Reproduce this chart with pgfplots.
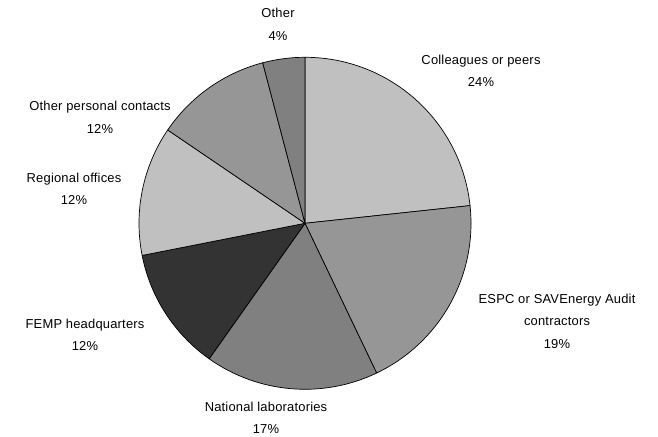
\documentclass[border=0pt]{standalone}
\usepackage{pgfplots}
\usepackage{pgfplotstable}
\pgfplotsset{compat=1.18}
\usepackage{fontspec}
\setmainfont[LetterSpace=1.5]{Liberation Sans}
\definecolor{cLight}{HTML}{C0C0C0}
\definecolor{cMid}{HTML}{969696}
\definecolor{cDark}{HTML}{808080}
\definecolor{cBlack}{HTML}{333333}
\pgfplotstableread{
value color
23.3 cLight
19.6 cMid
16.9 cDark
12.1 cBlack
12.6 cLight
11.4 cMid
4.1 cDark
}\piedata
\begin{document}
\begin{tikzpicture}
\begin{axis}[
  x=1bp, y=1bp,
  xmin=0, xmax=658, ymin=0, ymax=437,
  hide axis, clip=false,
  scale only axis,
]
\pgfplotsextra{
  \path (axis cs:0,0) rectangle (axis cs:658,437);
  \gdef\curang{90}
  \pgfplotsforeachungrouped \i in {0,...,6} {
    \pgfplotstablegetelem{\i}{value}\of\piedata \let\v=\pgfplotsretval
    \pgfplotstablegetelem{\i}{color}\of\piedata \let\c=\pgfplotsretval
    \pgfmathsetmacro{\endang}{\curang-3.6*\v}
    \filldraw[fill=\c, draw=black, line width=0.7bp, line join=round]
      (axis cs:305,213.7) -- ++(\curang:166bp)
      arc[start angle=\curang, end angle=\endang, radius=166bp] -- cycle;
    \xdef\curang{\endang}
  }
  \begingroup
  \tikzset{every node/.style={align=center, inner sep=0pt, font=\fontsize{13}{22.5}\selectfont}}
  \node at (axis cs:278,412.5) {Other\\4\%};
  \node at (axis cs:481,366) {Colleagues or peers\\24\%};
  \node at (axis cs:557,116) {ESPC or SAVEnergy Audit\\contractors\\19\%};
  \node at (axis cs:266,19) {National laboratories\\17\%};
  \node at (axis cs:85,102) {FEMP headquarters\\12\%};
  \node at (axis cs:74,248) {Regional offices\\12\%};
  \node at (axis cs:100,319.5) {Other personal contacts\\12\%};
  \endgroup
}
\end{axis}
\end{tikzpicture}
\end{document}
